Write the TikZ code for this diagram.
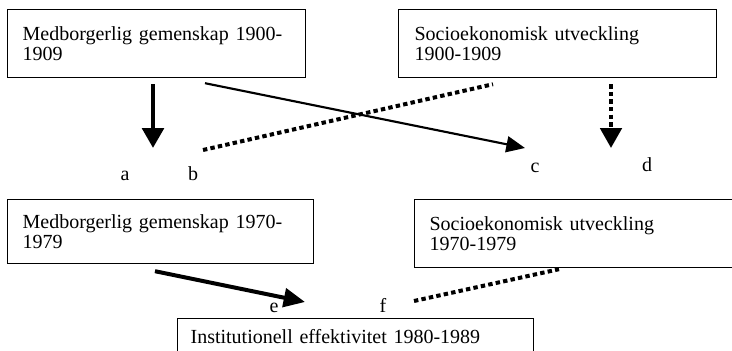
\documentclass[tikz,border=0pt]{standalone}
\usepackage{fontspec}
\setmainfont{Liberation Serif}
\usetikzlibrary{arrows.meta, calc, positioning}
\tikzset{>=Triangle}

\begin{document}
\begin{tikzpicture}[x=0.75pt, y=-0.75pt, font=\fontsize{15pt}{15pt}\selectfont,
    box/.style={draw, line width=0.9pt, anchor=north west, align=left, inner xsep=11.25pt, inner ysep=0pt},
    lbl/.style={anchor=base, inner sep=0pt},
    bold arrow/.style={line width=3.5pt, -{Triangle[width=16pt,length=15pt]}},
    thin arrow/.style={line width=1.6pt, -{Triangle[width=12pt,length=14pt]}},
    dots/.style={line width=3pt, dash pattern=on 3.3pt off 2.4pt}]
    \useasboundingbox (0,0) rectangle (732,350);
    \clip (0,0) rectangle (732,350);
    % boxes
    \node[box, text width=201pt, minimum height=51pt] (m1900) at (7,9) {Medborgerlig gemenskap 1900-\\1909};
    \node[box, inner xsep=12pt, text width=214.5pt, minimum height=51pt] (s1900) at (398,9) {Socioekonomisk utveckling\\1900-1909};
    \node[box, text width=207pt, minimum height=48pt] (m1970) at (7,199) {Medborgerlig gemenskap 1970-\\1979};
    \node[box, text width=232.5pt, minimum height=51pt] (s1970) at (414,199) {Socioekonomisk utveckling\\1970-1979};
    \node[box, inner xsep=9.75pt, text width=247.5pt, minimum height=27pt] (inst) at (177,318) {Institutionell effektivitet 1980-1989};
    % labels
    \node[lbl] (a) at (125,180) {a};
    \node[lbl] (b) at (193,180) {b};
    \node[lbl] (c) at (535,172) {c};
    \node[lbl] (d) at (647,171) {d};
    \node[lbl] (e) at (274,312) {e};
    \node[lbl] (f) at (383,312) {f};
    % free ends
    \coordinate (a-end) at (153,148);
    \coordinate (b-end) at (203,150);
    \coordinate (c-end) at (525,148);
    \coordinate (d-end) at (611,148);
    \coordinate (e-end) at (305,302);
    \coordinate (f-end) at (414,301);
    % connectors
    \draw[bold arrow] ($(m1900.south west)+(146,6)$) -- (a-end);
    \draw[thin arrow] ($(m1900.south west)+(198,5)$) -- (c-end);
    \draw[dots] (b-end) -- ($(s1900.south west)+(95,6)$);
    \draw[dots, -{Triangle[width=16pt,length=15pt]}] ($(s1900.south west)+(213,6)$) -- (d-end);
    \draw[line width=3pt, -{Triangle[width=14pt,length=16pt]}] ($(m1970.south west)+(148,7)$) -- (e-end);
    \draw[dots] (f-end) -- ($(s1970.south west)+(145,1)$);
\end{tikzpicture}
\end{document}
